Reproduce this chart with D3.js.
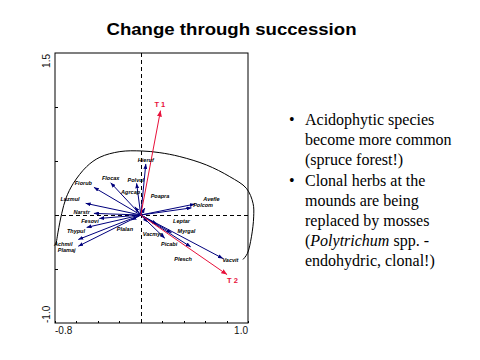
<!DOCTYPE html>
<html><head><meta charset="utf-8">
<script src="https://cdn.jsdelivr.net/npm/d3@7"></script>
<style>html,body{margin:0;padding:0;background:#fff;}svg{display:block;}</style>
</head><body>
<svg id="c" width="480" height="360"></svg>
<script>
const title = "Change through succession";
const xDomain = [-0.8, 1.0];
const yDomain = [-1.0, 1.5];
const xTicks = [-0.8,-0.6,-0.4,-0.2,0,0.2,0.4,0.6,0.8,1.0];
const yTicks = [-0.5,0,0.5,1.0];
const xEndLabels = ["-0.8","1.0"];
const yEndLabels = ["-1.0","1.5"];

const speciesNames = ["Hieruf","Flocax","Polvul","Fiorub","Agrcap","Poapra","Luzmul","Avefle","Polcom","Narstr","Fesovi","Thypul","Plalan","Achmil","Plamaj","Leptar","Myrgal","Vacmyr","Picabi","Plesch","Vacvit"];
const speciesX = [0.047,-0.281,-0.039,-0.437,-0.055,0.038,-0.514,0.504,0.473,-0.437,-0.387,-0.505,-0.086,-0.583,-0.583,0.150,0.287,0.066,0.224,0.466,0.767];
const speciesY = [0.473,0.299,0.293,0.256,0.076,0.064,0.108,0.101,0.066,0.015,-0.032,-0.115,-0.047,-0.227,-0.289,-0.085,-0.165,-0.066,-0.215,-0.295,-0.403];
const labelX = [0.047,-0.281,-0.046,-0.536,-0.095,0.179,-0.660,0.659,0.581,-0.551,-0.474,-0.604,-0.148,-0.723,-0.691,0.380,0.426,0.110,0.264,0.395,0.836];
const labelY = [0.510,0.343,0.324,0.293,0.210,0.176,0.148,0.145,0.092,0.024,-0.057,-0.147,-0.131,-0.264,-0.326,-0.057,-0.147,-0.177,-0.270,-0.403,-0.419];

const envNames = ["T 1","T 2"];
const envX = [0.184, 0.805];
const envY = [0.967, -0.552];
const envLabelX = [0.178, 0.855];
const envLabelY = [1.025, -0.600];

const hullX = [-0.791,-0.772,-0.737,-0.697,-0.629,-0.505,-0.381,-0.195,0.007,0.178,0.364,0.613,0.830,0.985,1.047,1.053,1.032,0.994,0.953];
const hullY = [-0.279,-0.159,0.015,0.157,0.293,0.448,0.535,0.587,0.593,0.577,0.541,0.463,0.355,0.247,0.108,-0.017,-0.202,-0.357,-0.412];

const bullets = [
  ["Acidophytic species","become more common","(spruce forest!)"],
  ["Clonal herbs at the","mounds are being","replaced by mosses","(|Polytrichum| spp. -","endohydric, clonal!)"]
];

const svg = d3.select("#c");
const L=55,R=248,T=53,B=323;
const x = d3.scaleLinear().domain(xDomain).range([L,R]);
const y = d3.scaleLinear().domain(yDomain).range([B,T]);

const defs = svg.append("defs");
function marker(id,color,w,h){
  defs.append("marker").attr("id",id).attr("viewBox",`0 ${-h} ${w} ${2*h}`)
    .attr("refX",w).attr("refY",0).attr("markerWidth",w).attr("markerHeight",2*h)
    .attr("markerUnits","userSpaceOnUse").attr("orient","auto")
    .append("path").attr("d",`M0,${-h}L${w},0L0,${h}Z`).attr("fill",color);
}
marker("mb","#00007c",5,2);
marker("mr","#e8103a",6,2.5);

// title
svg.append("text").attr("x",231.5).attr("y",34.5).attr("text-anchor","middle")
  .attr("font-family","Arial, 'Liberation Sans', sans-serif").attr("font-weight","bold")
  .attr("font-size",17).attr("textLength",250).attr("lengthAdjust","spacingAndGlyphs").text(title);

// frame
svg.append("rect").attr("x",L).attr("y",T).attr("width",R-L).attr("height",B-T)
  .attr("fill","none").attr("stroke","#000").attr("stroke-width",1);

// ticks
const gx = svg.append("g").attr("transform",`translate(0,${B})`)
  .call(d3.axisTop(x).tickValues(xTicks).tickSize(2.5).tickFormat(""));
gx.select(".domain").remove();
gx.selectAll("line").attr("stroke","#000").attr("shape-rendering","crispEdges");
const gy = svg.append("g").attr("transform",`translate(${L},0)`)
  .call(d3.axisRight(y).tickValues(yTicks).tickSize(2.5).tickFormat(""));
gy.select(".domain").remove();
gy.selectAll("line").attr("stroke","#000").attr("shape-rendering","crispEdges");

// end labels
const af = "Arial, 'Liberation Sans', sans-serif";
svg.append("text").attr("x",x(xDomain[0])).attr("y",334).attr("font-family",af).attr("font-size",10).attr("fill","#111").text(xEndLabels[0]);
svg.append("text").attr("x",x(xDomain[1])).attr("y",334).attr("text-anchor","end").attr("font-family",af).attr("font-size",10).attr("fill","#111").text(xEndLabels[1]);
svg.append("text").attr("transform",`translate(50,${y(yDomain[0])}) rotate(-90)`).attr("font-family",af).attr("font-size",10).attr("fill","#111").text(yEndLabels[0]);
svg.append("text").attr("transform",`translate(50,${y(yDomain[1])+1}) rotate(-90)`).attr("text-anchor","end").attr("font-family",af).attr("font-size",10).attr("fill","#111").text(yEndLabels[1]);

// dashed zero lines
svg.append("line").attr("x1",L).attr("x2",R).attr("y1",Math.round(y(0))+0.5).attr("y2",Math.round(y(0))+0.5)
  .attr("stroke","#000").attr("stroke-dasharray","4,3");
svg.append("line").attr("x1",Math.round(x(0))+0.5).attr("x2",Math.round(x(0))+0.5).attr("y1",T).attr("y2",B)
  .attr("stroke","#000").attr("stroke-dasharray","4,3");

// hull curve
const hull = hullX.map((v,i)=>[v,hullY[i]]);
svg.append("path").attr("d",d3.line().x(d=>x(d[0])).y(d=>y(d[1])).curve(d3.curveCatmullRom)(hull))
  .attr("fill","none").attr("stroke","#000").attr("stroke-width",1);

// species arrows
speciesNames.forEach((n,i)=>{
  svg.append("line").attr("x1",x(0)).attr("y1",y(0)).attr("x2",x(speciesX[i])).attr("y2",y(speciesY[i]))
    .attr("stroke","#00007c").attr("stroke-width",1).attr("marker-end","url(#mb)");
});
// env arrows
envNames.forEach((n,i)=>{
  svg.append("line").attr("x1",x(0)).attr("y1",y(0)).attr("x2",x(envX[i])).attr("y2",y(envY[i]))
    .attr("stroke","#e8103a").attr("stroke-width",1).attr("marker-end","url(#mr)");
});
// species labels
speciesNames.forEach((n,i)=>{
  svg.append("text").attr("x",x(labelX[i])).attr("y",y(labelY[i])+2).attr("text-anchor","middle")
    .attr("font-family",af).attr("font-style","italic").attr("font-weight","bold").attr("font-size",5.5)
    .attr("fill","#000").text(n);
});
envNames.forEach((n,i)=>{
  svg.append("text").attr("x",x(envLabelX[i])).attr("y",y(envLabelY[i])+3).attr("text-anchor","middle")
    .attr("font-family",af).attr("font-weight","bold").attr("font-size",7.5)
    .attr("fill","#e8103a").text(n);
});

// bullet text
const sf = "'Liberation Serif','Times New Roman',serif";
let ly = 125;
bullets.forEach(lines=>{
  svg.append("text").attr("x",289).attr("y",ly).attr("font-family",sf).attr("font-size",16).text("\u2022");
  lines.forEach(line=>{
    const t = svg.append("text").attr("x",305).attr("y",ly).attr("font-family",sf).attr("font-size",16).attr("fill","#000");
    line.split("|").forEach((part,k)=>{
      t.append("tspan").attr("font-style",k%2===1?"italic":"normal").text(part);
    });
    ly += 20;
  });
  ly += 1;
});
</script>
</body></html>
